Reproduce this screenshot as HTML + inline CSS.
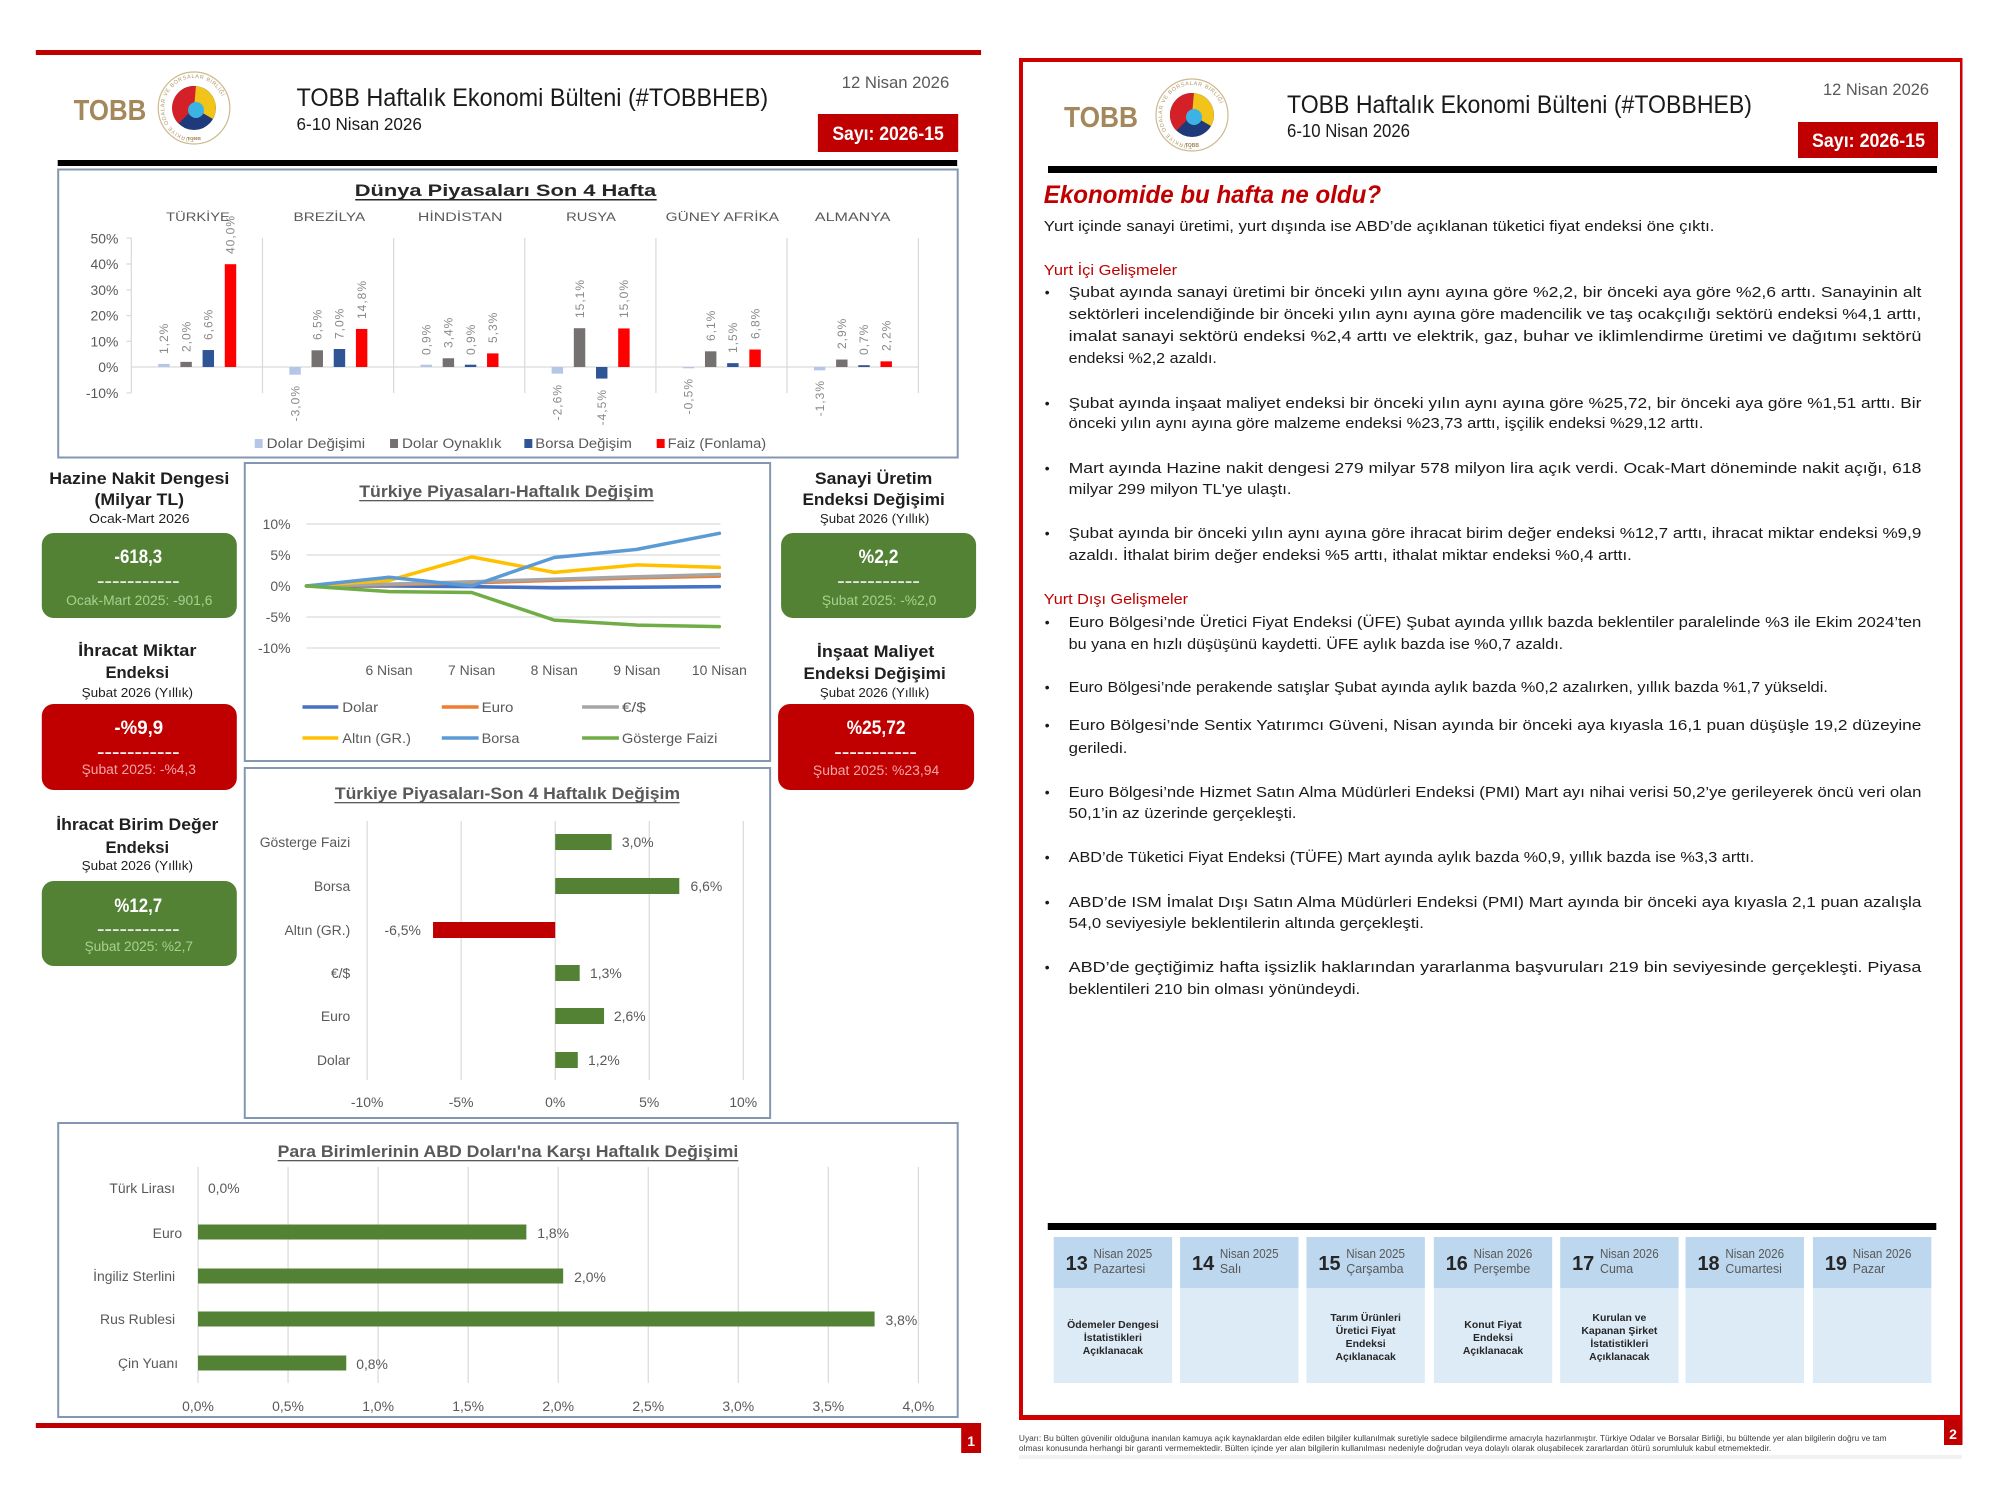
<!DOCTYPE html>
<html><head><meta charset="utf-8"><style>html,body{margin:0;padding:0;background:#fff}svg{display:block}</style></head>
<body>
<svg width="2000" height="1500" viewBox="0 0 2000 1500" xmlns="http://www.w3.org/2000/svg" font-family="Liberation Sans, sans-serif">
<defs>
<path id="ring1" d="M 195 138 A 30 30 0 1 1 195.1 138" fill="none"/>
<path id="ring2" d="M 1192 145 A 30 30 0 1 1 1192.1 145" fill="none"/>
</defs>
<rect width="2000" height="1500" fill="#fff"/>

<!-- ================= PAGE 1 ================= -->
<g transform="matrix(0.995 0 0 1 0 0)">
<rect x="36" y="50" width="950" height="5" fill="#c00000"/>
<!-- logo -->
<text x="74" y="120" font-size="29" font-weight="bold" fill="#a4875a" textLength="73" lengthAdjust="spacingAndGlyphs">TOBB</text>
<circle cx="195" cy="108" r="36" fill="#fff" stroke="#cdb98f" stroke-width="1.2"/>
<text font-size="5.5" fill="#b09868" letter-spacing="0.6"><textPath href="#ring1">TÜRKİYE ODALAR VE BORSALAR BİRLİĞİ</textPath></text>
<circle cx="195" cy="108" r="22" fill="#1f3a7a"/>
<path d="M195 108 L179.4 123.6 A22 22 0 0 1 196.9 86.1 Z" fill="#d42027"/>
<path d="M195 108 L196.9 86.1 A22 22 0 0 1 214 119 Z" fill="#f2c318"/>
<circle cx="197" cy="110" r="8" fill="#3bb4e5"/>
<text x="195" y="140" font-size="5" font-weight="bold" fill="#a4875a" text-anchor="middle">TOBB</text>
<!-- header -->
<text x="298" y="106" font-size="25" fill="#1a1a1a" textLength="474" lengthAdjust="spacingAndGlyphs">TOBB Haftalık Ekonomi Bülteni (#TOBBHEB)</text>
<text x="298" y="130" font-size="18" fill="#1a1a1a" textLength="126" lengthAdjust="spacingAndGlyphs">6-10 Nisan 2026</text>
<text x="846" y="88" font-size="17" fill="#595959" textLength="108" lengthAdjust="spacingAndGlyphs">12 Nisan 2026</text>
<rect x="822" y="114" width="141" height="38" fill="#c00000"/>
<text x="892.5" y="140" font-size="19" font-weight="bold" fill="#fff" text-anchor="middle" textLength="112" lengthAdjust="spacingAndGlyphs">Sayı: 2026-15</text>
<rect x="58" y="160" width="904" height="6" fill="#000"/>

<!-- World chart -->
<rect x="58.5" y="169.5" width="904" height="288" fill="#fff" stroke="#8497b0" stroke-width="2"/>
<text x="508" y="196" font-size="17" font-weight="bold" fill="#262626" text-anchor="middle" textLength="303" lengthAdjust="spacingAndGlyphs">Dünya Piyasaları Son 4 Hafta</text>
<rect x="357" y="199" width="303" height="1.5" fill="#262626"/>
<g font-size="12" fill="#595959" text-anchor="middle">
<text x="199" y="221" textLength="64" lengthAdjust="spacingAndGlyphs">TÜRKİYE</text>
<text x="331" y="221" textLength="72" lengthAdjust="spacingAndGlyphs">BREZİLYA</text>
<text x="462.5" y="221" textLength="85" lengthAdjust="spacingAndGlyphs">HİNDİSTAN</text>
<text x="594" y="221" textLength="50" lengthAdjust="spacingAndGlyphs">RUSYA</text>
<text x="726" y="221" textLength="114" lengthAdjust="spacingAndGlyphs">GÜNEY AFRİKA</text>
<text x="857" y="221" textLength="76" lengthAdjust="spacingAndGlyphs">ALMANYA</text>
</g>
<g font-size="14" fill="#595959" text-anchor="end">
<text x="119" y="243.5">50%</text>
<text x="119" y="269">40%</text>
<text x="119" y="295">30%</text>
<text x="119" y="320.5">20%</text>
<text x="119" y="346.5">10%</text>
<text x="119" y="372">0%</text>
<text x="119" y="398">-10%</text>
</g>
<g stroke="#d9d9d9" stroke-width="1.2">
<line x1="132" y1="238" x2="132" y2="393"/>
<line x1="263.8" y1="238" x2="263.8" y2="393"/>
<line x1="395.6" y1="238" x2="395.6" y2="393"/>
<line x1="527.4" y1="238" x2="527.4" y2="393"/>
<line x1="659.2" y1="238" x2="659.2" y2="393"/>
<line x1="791" y1="238" x2="791" y2="393"/>
<line x1="923" y1="238" x2="923" y2="393"/>
<line x1="132" y1="367" x2="923" y2="367"/>
<line x1="127" y1="238" x2="132" y2="238"/><line x1="127" y1="264" x2="132" y2="264"/><line x1="127" y1="290" x2="132" y2="290"/><line x1="127" y1="315.6" x2="132" y2="315.6"/><line x1="127" y1="341.3" x2="132" y2="341.3"/><line x1="127" y1="393" x2="132" y2="393"/>
</g>
<!-- bars -->
<g>
<rect x="159" y="363.92" width="11.5" height="3.08" fill="#b4c7e7"/>
<rect x="181.3" y="361.86" width="11.5" height="5.14" fill="#767171"/>
<rect x="203.6" y="350.04" width="11.5" height="16.96" fill="#2f5597"/>
<rect x="225.9" y="264.2" width="11.5" height="102.8" fill="#ff0000"/>

<rect x="290.8" y="367" width="11.5" height="7.71" fill="#b4c7e7"/>
<rect x="313.1" y="350.3" width="11.5" height="16.7" fill="#767171"/>
<rect x="335.4" y="349" width="11.5" height="18" fill="#2f5597"/>
<rect x="357.7" y="328.96" width="11.5" height="38.04" fill="#ff0000"/>

<rect x="422.6" y="364.69" width="11.5" height="2.31" fill="#b4c7e7"/>
<rect x="444.9" y="358.26" width="11.5" height="8.74" fill="#767171"/>
<rect x="467.2" y="364.69" width="11.5" height="2.31" fill="#2f5597"/>
<rect x="489.5" y="353.38" width="11.5" height="13.62" fill="#ff0000"/>

<rect x="554.4" y="367" width="11.5" height="6.68" fill="#b4c7e7"/>
<rect x="576.7" y="328.19" width="11.5" height="38.81" fill="#767171"/>
<rect x="599" y="367" width="11.5" height="11.57" fill="#2f5597"/>
<rect x="621.3" y="328.45" width="11.5" height="38.55" fill="#ff0000"/>

<rect x="686.2" y="367" width="11.5" height="1.29" fill="#b4c7e7"/>
<rect x="708.5" y="351.32" width="11.5" height="15.68" fill="#767171"/>
<rect x="730.8" y="363.14" width="11.5" height="3.86" fill="#2f5597"/>
<rect x="753.1" y="349.52" width="11.5" height="17.48" fill="#ff0000"/>

<rect x="818" y="367" width="11.5" height="3.34" fill="#b4c7e7"/>
<rect x="840.3" y="359.55" width="11.5" height="7.45" fill="#767171"/>
<rect x="862.6" y="365.2" width="11.5" height="1.8" fill="#2f5597"/>
<rect x="884.9" y="361.35" width="11.5" height="5.65" fill="#ff0000"/>
</g>
<!-- value labels -->
<g font-size="12" fill="#898989" letter-spacing="1">
<text transform="translate(169,354) rotate(-90)">1,2%</text>
<text transform="translate(191.3,352) rotate(-90)">2,0%</text>
<text transform="translate(213.6,340) rotate(-90)">6,6%</text>
<text transform="translate(235.9,254) rotate(-90)">40,0%</text>

<text transform="translate(300.8,385) rotate(-90)" text-anchor="end">-3,0%</text>
<text transform="translate(323.1,340) rotate(-90)">6,5%</text>
<text transform="translate(345.4,339) rotate(-90)">7,0%</text>
<text transform="translate(367.7,319) rotate(-90)">14,8%</text>

<text transform="translate(432.6,355) rotate(-90)">0,9%</text>
<text transform="translate(454.9,348) rotate(-90)">3,4%</text>
<text transform="translate(477.2,355) rotate(-90)">0,9%</text>
<text transform="translate(499.5,343) rotate(-90)">5,3%</text>

<text transform="translate(564.4,384) rotate(-90)" text-anchor="end">-2,6%</text>
<text transform="translate(586.7,318) rotate(-90)">15,1%</text>
<text transform="translate(609,389) rotate(-90)" text-anchor="end">-4,5%</text>
<text transform="translate(631.3,318) rotate(-90)">15,0%</text>

<text transform="translate(696.2,378) rotate(-90)" text-anchor="end">-0,5%</text>
<text transform="translate(718.5,341) rotate(-90)">6,1%</text>
<text transform="translate(740.8,353) rotate(-90)">1,5%</text>
<text transform="translate(763.1,339) rotate(-90)">6,8%</text>

<text transform="translate(828,380) rotate(-90)" text-anchor="end">-1,3%</text>
<text transform="translate(850.3,349) rotate(-90)">2,9%</text>
<text transform="translate(872.6,355) rotate(-90)">0,7%</text>
<text transform="translate(894.9,351) rotate(-90)">2,2%</text>
</g>
<!-- legend -->
<g font-size="14" fill="#595959">
<rect x="256" y="439" width="8" height="9" fill="#b4c7e7"/>
<text x="268" y="448" textLength="99" lengthAdjust="spacingAndGlyphs">Dolar Değişimi</text>
<rect x="392" y="439" width="8" height="9" fill="#767171"/>
<text x="404" y="448" textLength="100" lengthAdjust="spacingAndGlyphs">Dolar Oynaklık</text>
<rect x="527" y="439" width="8" height="9" fill="#2f5597"/>
<text x="538" y="448" textLength="97" lengthAdjust="spacingAndGlyphs">Borsa Değişim</text>
<rect x="660" y="439" width="8" height="9" fill="#ff0000"/>
<text x="671" y="448" textLength="99" lengthAdjust="spacingAndGlyphs">Faiz (Fonlama)</text>
</g>

<!-- Left KPI column -->
<g fill="#1f1f1f" text-anchor="middle">
<text x="140" y="484" font-size="17" font-weight="bold" textLength="181" lengthAdjust="spacingAndGlyphs">Hazine Nakit Dengesi</text>
<text x="140" y="505" font-size="17" font-weight="bold" textLength="90" lengthAdjust="spacingAndGlyphs">(Milyar TL)</text>
<text x="140" y="523" font-size="13" textLength="101" lengthAdjust="spacingAndGlyphs">Ocak-Mart 2026</text>

<text x="138" y="656" font-size="17" font-weight="bold" textLength="119" lengthAdjust="spacingAndGlyphs">İhracat Miktar</text>
<text x="138" y="678" font-size="17" font-weight="bold" textLength="64" lengthAdjust="spacingAndGlyphs">Endeksi</text>
<text x="138" y="697" font-size="13" textLength="112" lengthAdjust="spacingAndGlyphs">Şubat 2026 (Yıllık)</text>

<text x="138" y="830" font-size="17" font-weight="bold" textLength="163" lengthAdjust="spacingAndGlyphs">İhracat Birim Değer</text>
<text x="138" y="853" font-size="17" font-weight="bold" textLength="64" lengthAdjust="spacingAndGlyphs">Endeksi</text>
<text x="138" y="870" font-size="13" textLength="112" lengthAdjust="spacingAndGlyphs">Şubat 2026 (Yıllık)</text>

<text x="878" y="484" font-size="17" font-weight="bold" textLength="118" lengthAdjust="spacingAndGlyphs">Sanayi Üretim</text>
<text x="878" y="505" font-size="17" font-weight="bold" textLength="143" lengthAdjust="spacingAndGlyphs">Endeksi Değişimi</text>
<text x="879" y="523" font-size="13" textLength="110" lengthAdjust="spacingAndGlyphs">Şubat 2026 (Yıllık)</text>

<text x="880" y="657" font-size="17" font-weight="bold" textLength="118" lengthAdjust="spacingAndGlyphs">İnşaat Maliyet</text>
<text x="879" y="679" font-size="17" font-weight="bold" textLength="143" lengthAdjust="spacingAndGlyphs">Endeksi Değişimi</text>
<text x="879" y="697" font-size="13" textLength="110" lengthAdjust="spacingAndGlyphs">Şubat 2026 (Yıllık)</text>
</g>
<!-- KPI boxes -->
<rect x="42" y="533" width="196" height="85" rx="12" fill="#548235"/>
<rect x="42" y="704" width="196" height="86" rx="12" fill="#c00000"/>
<rect x="42" y="881" width="196" height="85" rx="12" fill="#548235"/>
<rect x="785" y="533" width="196" height="85" rx="12" fill="#548235"/>
<rect x="782" y="704" width="197" height="86" rx="12" fill="#c00000"/>
<g text-anchor="middle">
<text x="139" y="563" font-size="19" font-weight="bold" fill="#fff" textLength="48" lengthAdjust="spacingAndGlyphs">-618,3</text>
<text x="139" y="586" font-size="15" font-weight="bold" fill="#e8e8e8" textLength="83" lengthAdjust="spacingAndGlyphs">-----------</text>
<text x="140" y="605" font-size="14" fill="#a9d08e" textLength="147" lengthAdjust="spacingAndGlyphs">Ocak-Mart 2025: -901,6</text>

<text x="139.5" y="734" font-size="19" font-weight="bold" fill="#fff" textLength="49" lengthAdjust="spacingAndGlyphs">-%9,9</text>
<text x="139" y="757" font-size="15" font-weight="bold" fill="#f2f2f2" textLength="83" lengthAdjust="spacingAndGlyphs">-----------</text>
<text x="139.5" y="774" font-size="14" fill="#f4a6a6" textLength="115" lengthAdjust="spacingAndGlyphs">Şubat 2025: -%4,3</text>

<text x="139" y="912" font-size="19" font-weight="bold" fill="#fff" textLength="48" lengthAdjust="spacingAndGlyphs">%12,7</text>
<text x="139" y="934" font-size="15" font-weight="bold" fill="#e8e8e8" textLength="83" lengthAdjust="spacingAndGlyphs">-----------</text>
<text x="139.5" y="951" font-size="14" fill="#a9d08e" textLength="109" lengthAdjust="spacingAndGlyphs">Şubat 2025: %2,7</text>

<text x="883" y="563" font-size="19" font-weight="bold" fill="#fff" textLength="40" lengthAdjust="spacingAndGlyphs">%2,2</text>
<text x="883" y="586" font-size="15" font-weight="bold" fill="#e8e8e8" textLength="83" lengthAdjust="spacingAndGlyphs">-----------</text>
<text x="883.5" y="605" font-size="14" fill="#a9d08e" textLength="115" lengthAdjust="spacingAndGlyphs">Şubat 2025: -%2,0</text>

<text x="880.5" y="734" font-size="19" font-weight="bold" fill="#fff" textLength="59" lengthAdjust="spacingAndGlyphs">%25,72</text>
<text x="880" y="757" font-size="15" font-weight="bold" fill="#f2f2f2" textLength="83" lengthAdjust="spacingAndGlyphs">-----------</text>
<text x="880.5" y="775" font-size="14" fill="#f4a6a6" textLength="127" lengthAdjust="spacingAndGlyphs">Şubat 2025: %23,94</text>
</g>

<!-- Middle chart 1: line chart -->
<rect x="246" y="463" width="528" height="298" fill="#fff" stroke="#8497b0" stroke-width="2"/>
<text x="509" y="497" font-size="17" font-weight="bold" fill="#595959" text-anchor="middle" textLength="296" lengthAdjust="spacingAndGlyphs">Türkiye Piyasaları-Haftalık Değişim</text>
<rect x="361" y="500" width="296" height="1.3" fill="#595959"/>
<g stroke="#d9d9d9" stroke-width="1.2">
<line x1="308" y1="524" x2="724" y2="524"/>
<line x1="308" y1="555" x2="724" y2="555"/>
<line x1="308" y1="586" x2="724" y2="586"/>
<line x1="308" y1="617" x2="724" y2="617"/>
<line x1="308" y1="648" x2="724" y2="648"/>
</g>
<g font-size="14" fill="#595959" text-anchor="end">
<text x="292" y="529">10%</text>
<text x="292" y="560">5%</text>
<text x="292" y="591">0%</text>
<text x="292" y="622">-5%</text>
<text x="292" y="653">-10%</text>
</g>
<g font-size="14" fill="#595959" text-anchor="middle">
<text x="391" y="675">6 Nisan</text>
<text x="474" y="675">7 Nisan</text>
<text x="557" y="675">8 Nisan</text>
<text x="640" y="675">9 Nisan</text>
<text x="723" y="675">10 Nisan</text>
</g>
<g fill="none" stroke-width="3.5" stroke-linejoin="round" stroke-linecap="round">
<polyline stroke="#4472c4" points="308,586 391,586 474,586.6 557,587.9 640,587.2 723,586.6"/>
<polyline stroke="#ed7d31" points="308,586 391,584.8 474,582.9 557,580.4 640,577.9 723,576.1"/>
<polyline stroke="#a5a5a5" points="308,586 391,584.1 474,581.7 557,579.2 640,576.7 723,574.5"/>
<polyline stroke="#ffc000" points="308,586 391,580.4 474,556.9 557,572.4 640,564.9 723,567.4"/>
<polyline stroke="#5b9bd5" points="308,586 391,577.3 474,586 557,557.5 640,549.4 723,533.3"/>
<polyline stroke="#70ad47" points="308,586 391,591.6 474,592.5 557,620.1 640,625.1 723,626.6"/>
</g>
<g stroke-width="3.5">
<line x1="304" y1="707" x2="340" y2="707" stroke="#4472c4"/>
<line x1="444" y1="707" x2="481" y2="707" stroke="#ed7d31"/>
<line x1="585" y1="707" x2="622" y2="707" stroke="#a5a5a5"/>
<line x1="304" y1="738" x2="340" y2="738" stroke="#ffc000"/>
<line x1="444" y1="738" x2="481" y2="738" stroke="#5b9bd5"/>
<line x1="585" y1="738" x2="622" y2="738" stroke="#70ad47"/>
</g>
<g font-size="13.5" fill="#595959">
<text x="344" y="712" textLength="36" lengthAdjust="spacingAndGlyphs">Dolar</text>
<text x="484" y="712" textLength="32" lengthAdjust="spacingAndGlyphs">Euro</text>
<text x="625" y="712" textLength="24" lengthAdjust="spacingAndGlyphs">€/$</text>
<text x="344" y="743" textLength="69" lengthAdjust="spacingAndGlyphs">Altın (GR.)</text>
<text x="484" y="743" textLength="38" lengthAdjust="spacingAndGlyphs">Borsa</text>
<text x="625" y="743" textLength="96" lengthAdjust="spacingAndGlyphs">Gösterge Faizi</text>
</g>

<!-- Middle chart 2: bar chart -->
<rect x="246" y="768" width="528" height="350" fill="#fff" stroke="#8497b0" stroke-width="2"/>
<text x="510" y="799" font-size="17" font-weight="bold" fill="#595959" text-anchor="middle" textLength="347" lengthAdjust="spacingAndGlyphs">Türkiye Piyasaları-Son 4 Haftalık Değişim</text>
<rect x="336" y="802" width="347" height="1.3" fill="#595959"/>
<g stroke="#d9d9d9" stroke-width="1.2">
<line x1="369" y1="821" x2="369" y2="1080"/>
<line x1="463.5" y1="821" x2="463.5" y2="1080"/>
<line x1="558" y1="821" x2="558" y2="1080"/>
<line x1="652.5" y1="821" x2="652.5" y2="1080"/>
<line x1="747" y1="821" x2="747" y2="1080"/>
</g>
<g font-size="14" fill="#595959" text-anchor="end">
<text x="352" y="847">Gösterge Faizi</text>
<text x="352" y="891">Borsa</text>
<text x="352" y="935">Altın (GR.)</text>
<text x="352" y="978">€/$</text>
<text x="352" y="1021">Euro</text>
<text x="352" y="1065">Dolar</text>
</g>
<g fill="#548235">
<rect x="558" y="834" width="56.7" height="16"/>
<rect x="558" y="878" width="124.7" height="16"/>
<rect x="558" y="965" width="24.6" height="16"/>
<rect x="558" y="1008" width="49.1" height="16"/>
<rect x="558" y="1052" width="22.7" height="16"/>
</g>
<rect x="435.2" y="922" width="122.8" height="16" fill="#c00000"/>
<g font-size="14" fill="#595959">
<text x="625" y="847">3,0%</text>
<text x="694" y="891">6,6%</text>
<text x="423" y="935" text-anchor="end">-6,5%</text>
<text x="593" y="978">1,3%</text>
<text x="617" y="1021">2,6%</text>
<text x="591" y="1065">1,2%</text>
</g>
<g font-size="14" fill="#595959" text-anchor="middle">
<text x="369" y="1107">-10%</text>
<text x="463.5" y="1107">-5%</text>
<text x="558" y="1107">0%</text>
<text x="652.5" y="1107">5%</text>
<text x="747" y="1107">10%</text>
</g>

<!-- Bottom chart -->
<rect x="58.5" y="1123" width="904" height="294" fill="#fff" stroke="#8497b0" stroke-width="2"/>
<text x="510.5" y="1157" font-size="17" font-weight="bold" fill="#595959" text-anchor="middle" textLength="463" lengthAdjust="spacingAndGlyphs">Para Birimlerinin ABD Doları'na Karşı Haftalık Değişimi</text>
<rect x="279" y="1160" width="463" height="1.3" fill="#595959"/>
<g stroke="#d9d9d9" stroke-width="1.2">
<line x1="199" y1="1167" x2="199" y2="1383"/>
<line x1="289.5" y1="1167" x2="289.5" y2="1383"/>
<line x1="380" y1="1167" x2="380" y2="1383"/>
<line x1="470.5" y1="1167" x2="470.5" y2="1383"/>
<line x1="561" y1="1167" x2="561" y2="1383"/>
<line x1="651.5" y1="1167" x2="651.5" y2="1383"/>
<line x1="742" y1="1167" x2="742" y2="1383"/>
<line x1="832.5" y1="1167" x2="832.5" y2="1383"/>
<line x1="923" y1="1167" x2="923" y2="1383"/>
</g>
<g font-size="14" fill="#595959" text-anchor="end">
<text x="176" y="1193">Türk Lirası</text>
<text x="183" y="1238">Euro</text>
<text x="176" y="1281">İngiliz Sterlini</text>
<text x="176" y="1324">Rus Rublesi</text>
<text x="179" y="1368">Çin Yuanı</text>
</g>
<g fill="#548235">
<rect x="199" y="1224.5" width="330" height="15"/>
<rect x="199" y="1268.5" width="367" height="15"/>
<rect x="199" y="1311.5" width="680" height="15"/>
<rect x="199" y="1355.5" width="149" height="15"/>
</g>
<g font-size="14" fill="#595959">
<text x="209" y="1193">0,0%</text>
<text x="540" y="1238">1,8%</text>
<text x="577" y="1282">2,0%</text>
<text x="890" y="1325">3,8%</text>
<text x="358" y="1369">0,8%</text>
</g>
<g font-size="14" fill="#595959" text-anchor="middle">
<text x="199" y="1411">0,0%</text>
<text x="289.5" y="1411">0,5%</text>
<text x="380" y="1411">1,0%</text>
<text x="470.5" y="1411">1,5%</text>
<text x="561" y="1411">2,0%</text>
<text x="651.5" y="1411">2,5%</text>
<text x="742" y="1411">3,0%</text>
<text x="832.5" y="1411">3,5%</text>
<text x="923" y="1411">4,0%</text>
</g>
<rect x="36" y="1423" width="950" height="5" fill="#c00000"/>
<rect x="966" y="1423" width="20" height="30" fill="#c00000"/>
<text x="976" y="1446" font-size="14" font-weight="bold" fill="#fff" text-anchor="middle">1</text>
</g>

<!-- ================= PAGE 2 ================= -->
<rect x="1019" y="58" width="943" height="4" fill="#d00000"/>
<rect x="1019" y="58" width="4" height="1362" fill="#d00000"/>
<rect x="1960" y="58" width="2.5" height="1362" fill="#d00000"/>
<rect x="1019" y="1415" width="943.5" height="5" fill="#d00000"/>
<rect x="1019" y="1455" width="943" height="4" fill="#f2f2f2"/>
<!-- logo -->
<text x="1064" y="127" font-size="29" font-weight="bold" fill="#a4875a" textLength="74" lengthAdjust="spacingAndGlyphs">TOBB</text>
<circle cx="1192" cy="115" r="36" fill="#fff" stroke="#cdb98f" stroke-width="1.2"/>
<text font-size="5.5" fill="#b09868" letter-spacing="0.6"><textPath href="#ring2">TÜRKİYE ODALAR VE BORSALAR BİRLİĞİ</textPath></text>
<circle cx="1192" cy="115" r="22" fill="#1f3a7a"/>
<path d="M1192 115 L1176.4 130.6 A22 22 0 0 1 1193.9 93.1 Z" fill="#d42027"/>
<path d="M1192 115 L1193.9 93.1 A22 22 0 0 1 1211 126 Z" fill="#f2c318"/>
<circle cx="1194" cy="117" r="8" fill="#3bb4e5"/>
<text x="1192" y="147" font-size="5" font-weight="bold" fill="#a4875a" text-anchor="middle">TOBB</text>
<text x="1287" y="113" font-size="25" fill="#1a1a1a" textLength="465" lengthAdjust="spacingAndGlyphs">TOBB Haftalık Ekonomi Bülteni (#TOBBHEB)</text>
<text x="1287" y="137" font-size="18" fill="#1a1a1a" textLength="123" lengthAdjust="spacingAndGlyphs">6-10 Nisan 2026</text>
<text x="1823" y="95" font-size="17" fill="#595959" textLength="106" lengthAdjust="spacingAndGlyphs">12 Nisan 2026</text>
<rect x="1798" y="122" width="140" height="36" fill="#c00000"/>
<text x="1868.5" y="147" font-size="19" font-weight="bold" fill="#fff" text-anchor="middle" textLength="113" lengthAdjust="spacingAndGlyphs">Sayı: 2026-15</text>
<rect x="1048" y="166" width="889" height="7" fill="#000"/>

<g transform="matrix(0.995 0 0 1 5 0)">
<text x="1044" y="203" font-size="25" font-weight="bold" font-style="italic" fill="#c00000" textLength="339" lengthAdjust="spacingAndGlyphs">Ekonomide bu hafta ne oldu?</text>
<text x="1044" y="231" font-size="15" fill="#1a1a1a" textLength="674" lengthAdjust="spacingAndGlyphs">Yurt içinde sanayi üretimi, yurt dışında ise ABD’de açıklanan tüketici fiyat endeksi öne çıktı.</text>
<text x="1044" y="275" font-size="15" fill="#c00000" textLength="134" lengthAdjust="spacingAndGlyphs">Yurt İçi Gelişmeler</text>

<g font-size="15" fill="#1a1a1a">
<g font-size="14">
<text x="1045" y="297">•</text><text x="1045" y="408">•</text><text x="1045" y="473">•</text><text x="1045" y="538">•</text>
<text x="1045" y="627">•</text><text x="1045" y="692">•</text><text x="1045" y="730">•</text><text x="1045" y="797">•</text>
<text x="1045" y="862">•</text><text x="1045" y="907">•</text><text x="1045" y="972">•</text>
</g>
<text x="1069" y="297" textLength="857" lengthAdjust="spacingAndGlyphs">Şubat ayında sanayi üretimi bir önceki yılın aynı ayına göre %2,2, bir önceki aya göre %2,6 arttı. Sanayinin alt</text>
<text x="1069" y="319" textLength="857" lengthAdjust="spacingAndGlyphs">sektörleri incelendiğinde bir önceki yılın aynı ayına göre madencilik ve taş ocakçılığı sektörü endeksi %4,1 arttı,</text>
<text x="1069" y="341" textLength="857" lengthAdjust="spacingAndGlyphs">imalat sanayi sektörü endeksi %2,4 arttı ve elektrik, gaz, buhar ve iklimlendirme üretimi ve dağıtımı sektörü</text>
<text x="1069" y="363" textLength="149" lengthAdjust="spacingAndGlyphs">endeksi %2,2 azaldı.</text>

<text x="1069" y="408" textLength="857" lengthAdjust="spacingAndGlyphs">Şubat ayında inşaat maliyet endeksi bir önceki yılın aynı ayına göre %25,72, bir önceki aya göre %1,51 arttı. Bir</text>
<text x="1069" y="428" textLength="638" lengthAdjust="spacingAndGlyphs">önceki yılın aynı ayına göre malzeme endeksi %23,73 arttı, işçilik endeksi %29,12 arttı.</text>

<text x="1069" y="473" textLength="857" lengthAdjust="spacingAndGlyphs">Mart ayında Hazine nakit dengesi 279 milyar 578 milyon lira açık verdi. Ocak-Mart döneminde nakit açığı, 618</text>
<text x="1069" y="494" textLength="224" lengthAdjust="spacingAndGlyphs">milyar 299 milyon TL'ye ulaştı.</text>

<text x="1069" y="538" textLength="857" lengthAdjust="spacingAndGlyphs">Şubat ayında bir önceki yılın aynı ayına göre ihracat birim değer endeksi %12,7 arttı, ihracat miktar endeksi %9,9</text>
<text x="1069" y="560" textLength="566" lengthAdjust="spacingAndGlyphs">azaldı. İthalat birim değer endeksi %5 arttı, ithalat miktar endeksi %0,4 arttı.</text>
</g>

<text x="1044" y="604" font-size="15" fill="#c00000" textLength="145" lengthAdjust="spacingAndGlyphs">Yurt Dışı Gelişmeler</text>

<g font-size="15" fill="#1a1a1a">
<text x="1069" y="627" textLength="857" lengthAdjust="spacingAndGlyphs">Euro Bölgesi’nde Üretici Fiyat Endeksi (ÜFE) Şubat ayında yıllık bazda beklentiler paralelinde %3 ile Ekim 2024’ten</text>
<text x="1069" y="649" textLength="497" lengthAdjust="spacingAndGlyphs">bu yana en hızlı düşüşünü kaydetti. ÜFE aylık bazda ise %0,7 azaldı.</text>

<text x="1069" y="692" textLength="763" lengthAdjust="spacingAndGlyphs">Euro Bölgesi’nde perakende satışlar Şubat ayında aylık bazda %0,2 azalırken, yıllık bazda %1,7 yükseldi.</text>

<text x="1069" y="730" textLength="857" lengthAdjust="spacingAndGlyphs">Euro Bölgesi’nde Sentix Yatırımcı Güveni, Nisan ayında bir önceki aya kıyasla 16,1 puan düşüşle 19,2 düzeyine</text>
<text x="1069" y="753" textLength="59" lengthAdjust="spacingAndGlyphs">geriledi.</text>

<text x="1069" y="797" textLength="857" lengthAdjust="spacingAndGlyphs">Euro Bölgesi’nde Hizmet Satın Alma Müdürleri Endeksi (PMI) Mart ayı nihai verisi 50,2’ye gerileyerek öncü veri olan</text>
<text x="1069" y="818" textLength="229" lengthAdjust="spacingAndGlyphs">50,1’in az üzerinde gerçekleşti.</text>

<text x="1069" y="862" textLength="689" lengthAdjust="spacingAndGlyphs">ABD’de Tüketici Fiyat Endeksi (TÜFE) Mart ayında aylık bazda %0,9, yıllık bazda ise %3,3 arttı.</text>

<text x="1069" y="907" textLength="857" lengthAdjust="spacingAndGlyphs">ABD’de ISM İmalat Dışı Satın Alma Müdürleri Endeksi (PMI) Mart ayında bir önceki aya kıyasla 2,1 puan azalışla</text>
<text x="1069" y="928" textLength="357" lengthAdjust="spacingAndGlyphs">54,0 seviyesiyle beklentilerin altında gerçekleşti.</text>

<text x="1069" y="972" textLength="857" lengthAdjust="spacingAndGlyphs">ABD’de geçtiğimiz hafta işsizlik haklarından yararlanma başvuruları 219 bin seviyesinde gerçekleşti. Piyasa</text>
<text x="1069" y="994" textLength="293" lengthAdjust="spacingAndGlyphs">beklentileri 210 bin olması yönündeydi.</text>
</g>

<!-- Calendar -->
<rect x="1048" y="1223" width="893" height="7" fill="#000"/>
<g>
<rect x="1054" y="1237" width="119" height="51" fill="#bdd7ee"/><rect x="1054" y="1288" width="119" height="95" fill="#ddebf7"/>
<rect x="1181" y="1237" width="119" height="51" fill="#bdd7ee"/><rect x="1181" y="1288" width="119" height="95" fill="#ddebf7"/>
<rect x="1308" y="1237" width="119" height="51" fill="#bdd7ee"/><rect x="1308" y="1288" width="119" height="95" fill="#ddebf7"/>
<rect x="1436" y="1237" width="119" height="51" fill="#bdd7ee"/><rect x="1436" y="1288" width="119" height="95" fill="#ddebf7"/>
<rect x="1563" y="1237" width="119" height="51" fill="#bdd7ee"/><rect x="1563" y="1288" width="119" height="95" fill="#ddebf7"/>
<rect x="1689" y="1237" width="119" height="51" fill="#bdd7ee"/><rect x="1689" y="1288" width="119" height="95" fill="#ddebf7"/>
<rect x="1817" y="1237" width="119" height="51" fill="#bdd7ee"/><rect x="1817" y="1288" width="119" height="95" fill="#ddebf7"/>
</g>
<g font-size="20" font-weight="bold" fill="#262626">
<text x="1066" y="1270">13</text>
<text x="1193" y="1270">14</text>
<text x="1320" y="1270">15</text>
<text x="1448" y="1270">16</text>
<text x="1575" y="1270">17</text>
<text x="1701" y="1270">18</text>
<text x="1829" y="1270">19</text>
</g>
<g font-size="12.5" fill="#595959">
<text x="1094" y="1258" textLength="59" lengthAdjust="spacingAndGlyphs">Nisan 2025</text><text x="1094" y="1273">Pazartesi</text>
<text x="1221" y="1258" textLength="59" lengthAdjust="spacingAndGlyphs">Nisan 2025</text><text x="1221" y="1273">Salı</text>
<text x="1348" y="1258" textLength="59" lengthAdjust="spacingAndGlyphs">Nisan 2025</text><text x="1348" y="1273">Çarşamba</text>
<text x="1476" y="1258" textLength="59" lengthAdjust="spacingAndGlyphs">Nisan 2026</text><text x="1476" y="1273">Perşembe</text>
<text x="1603" y="1258" textLength="59" lengthAdjust="spacingAndGlyphs">Nisan 2026</text><text x="1603" y="1273">Cuma</text>
<text x="1729" y="1258" textLength="59" lengthAdjust="spacingAndGlyphs">Nisan 2026</text><text x="1729" y="1273">Cumartesi</text>
<text x="1857" y="1258" textLength="59" lengthAdjust="spacingAndGlyphs">Nisan 2026</text><text x="1857" y="1273">Pazar</text>
</g>
<g font-size="10.5" font-weight="bold" fill="#262626" text-anchor="middle">
<text x="1113.5" y="1328">Ödemeler Dengesi</text>
<text x="1113.5" y="1341">İstatistikleri</text>
<text x="1113.5" y="1354">Açıklanacak</text>

<text x="1367.5" y="1321">Tarım Ürünleri</text>
<text x="1367.5" y="1334">Üretici Fiyat</text>
<text x="1367.5" y="1347">Endeksi</text>
<text x="1367.5" y="1360">Açıklanacak</text>

<text x="1495.5" y="1328">Konut Fiyat</text>
<text x="1495.5" y="1341">Endeksi</text>
<text x="1495.5" y="1354">Açıklanacak</text>

<text x="1622.5" y="1321">Kurulan ve</text>
<text x="1622.5" y="1334">Kapanan Şirket</text>
<text x="1622.5" y="1347">İstatistikleri</text>
<text x="1622.5" y="1360">Açıklanacak</text>
</g>

<!-- footer -->
<g font-size="8.5" fill="#404040">
<text x="1019" y="1441" textLength="872" lengthAdjust="spacingAndGlyphs">Uyarı: Bu bülten güvenilir olduğuna inanılan kamuya açık kaynaklardan elde edilen bilgiler kullanılmak suretiyle sadece bilgilendirme amacıyla hazırlanmıştır. Türkiye Odalar ve Borsalar Birliği, bu bültende yer alan bilgilerin doğru ve tam</text>
<text x="1019" y="1451" textLength="756" lengthAdjust="spacingAndGlyphs">olması konusunda herhangi bir garanti vermemektedir. Bülten içinde yer alan bilgilerin kullanılması nedeniyle doğrudan veya dolaylı olarak oluşabilecek zararlardan ötürü sorumluluk kabul etmemektedir.</text>
</g>
</g>
<rect x="1944" y="1420" width="18.5" height="25" fill="#c00000"/>
<text x="1953" y="1439" font-size="14" font-weight="bold" fill="#fff" text-anchor="middle">2</text>
</svg>
</body></html>
